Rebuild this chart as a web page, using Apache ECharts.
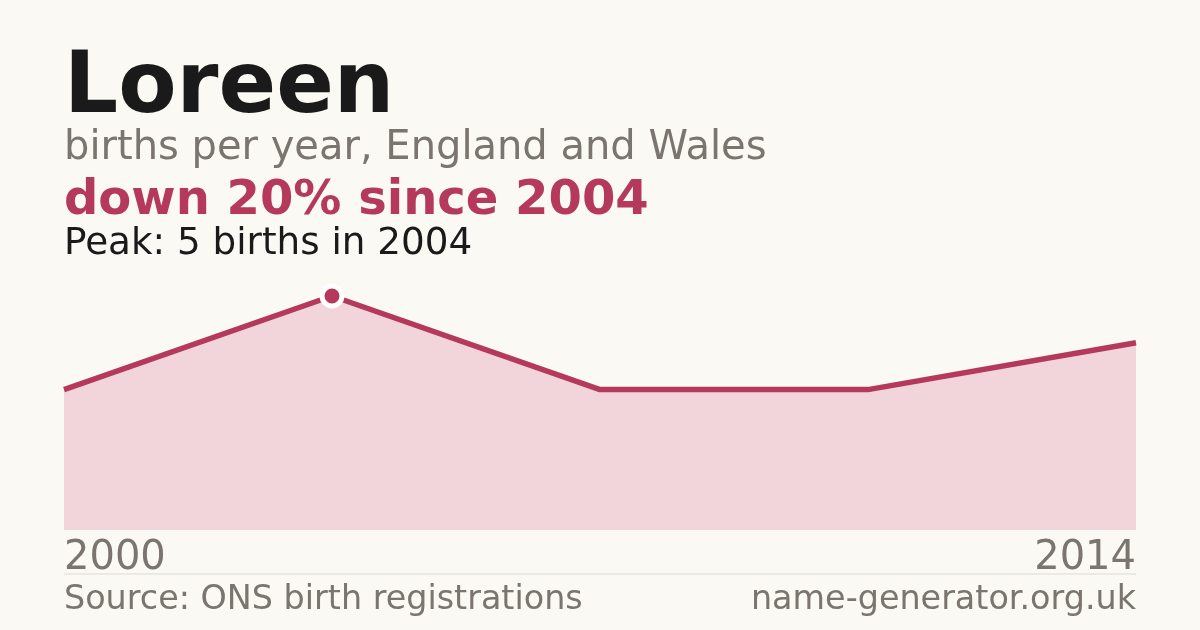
<!DOCTYPE html>
<html>
<head>
<meta charset="utf-8">
<script src="https://cdn.jsdelivr.net/npm/echarts@6/dist/echarts.min.js"></script>
<style>
  html, body { margin: 0; padding: 0; background: #faf9f4; }
  #chart { width: 1200px; height: 630px; }
</style>
</head>
<body>
<div id="chart"></div>
<script>
// data
var years = ["2000", "2004", "2008", "2011", "2014"];
var births = [3, 5, 3, 3, 4];
var peakIndex = 1;

var red = "#b5395a";
var grey = "#7a756e";
var font = "DejaVu Sans";

(function () {
  var myechart = echarts.init(document.getElementById("chart"));

  var option = {
    backgroundColor: "#faf9f4",
    animation: false,
    grid: {
      left: 64,
      right: 64,
      top: 296,
      bottom: 100,
    },
    xAxis: {
      type: "category",
      boundaryGap: false,
      data: years,
      axisLine: { show: false },
      axisTick: { show: false },
      splitLine: { show: false },
      axisLabel: {
        interval: function (i) {
          return i === 0 || i === years.length - 1;
        },
        alignMinLabel: "left",
        alignMaxLabel: "right",
        margin: 9,
        color: grey,
        fontFamily: font,
        fontSize: 40,
      },
    },
    yAxis: {
      type: "value",
      min: 0,
      max: 5,
      show: false,
    },
    series: [
      {
        type: "line",
        data: births.map(function (v, i) {
          if (i === peakIndex) {
            return {
              value: v,
              symbol: "circle",
              symbolSize: 20,
              itemStyle: { color: red, borderColor: "#ffffff", borderWidth: 5 },
            };
          }
          return { value: v, symbol: "none" };
        }),
        lineStyle: { color: red, width: 5.5 },
        areaStyle: { color: "#f2d5da", opacity: 1 },
        z: 2,
      },
    ],
    graphic: [
      {
        type: "text", left: 64, top: 47,
        style: { text: "Loreen", fill: "#1a1a1a", font: "bold 85px 'DejaVu Sans'" },
      },
      {
        type: "text", left: 64, top: 129,
        style: { text: "births per year, England and Wales", fill: grey, font: "40px 'DejaVu Sans'" },
      },
      {
        type: "text", left: 64, top: 178,
        style: { text: "down 20% since 2004", fill: red, font: "bold 48px 'DejaVu Sans'" },
      },
      {
        type: "text", left: 64, top: 226,
        style: { text: "Peak: 5 births in 2004", fill: "#1a1a1a", font: "37.3px 'DejaVu Sans'" },
      },
      {
        type: "rect",
        shape: { x: 64, y: 573.5, width: 1072, height: 1 },
        style: { fill: "#dcdad4" },
      },
      {
        type: "text", left: 64, top: 584,
        style: { text: "Source: ONS birth registrations", fill: grey, font: "33.4px 'DejaVu Sans'" },
      },
      {
        type: "text", right: 64, top: 584,
        style: { text: "name-generator.org.uk", fill: grey, font: "33.4px 'DejaVu Sans'" },
      },
    ],
  };

  myechart.setOption(option);
  window.addEventListener("resize", function () {
    myechart.resize();
  });
})();
</script>
</body>
</html>
